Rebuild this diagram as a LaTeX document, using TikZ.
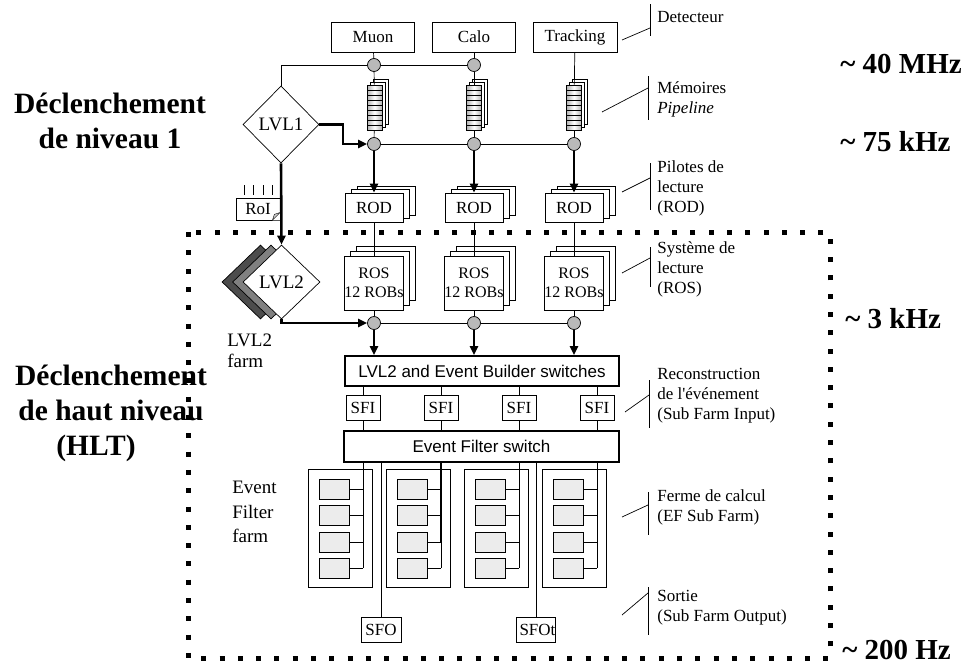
\documentclass[tikz,border=0pt]{standalone}
\usepackage{fontspec}
\setmainfont{Liberation Serif}
\setsansfont{Liberation Sans}
\usetikzlibrary{shapes.geometric,shadows,arrows.meta}

\tikzset{
  txt/.style={font=\fontsize{17}{20}\selectfont},
  box/.style={draw, fill=white, inner sep=0pt, txt},
  detbox/.style={box, minimum width=83, minimum height=30},
  tap/.style={circle, draw, fill=gray!55, minimum size=13, inner sep=0pt},
  pipe/.style={draw, inner sep=0pt, minimum width=15, minimum height=45,
    left color=gray!60, right color=gray!60, middle color=white,
    general shadow={shadow xshift=6pt, shadow yshift=6pt, draw, fill=white},
    general shadow={shadow xshift=3pt, shadow yshift=3pt, draw, fill=white},
    path picture={\foreach \k in {1,...,8}{\draw ([yshift=\k*5pt]path picture bounding box.south west) -- ([yshift=\k*5pt]path picture bounding box.south east);}}},
  rodbox/.style={box, minimum width=58, minimum height=29,
    general shadow={shadow xshift=12pt, shadow yshift=7pt, draw, fill=white},
    general shadow={shadow xshift=6pt, shadow yshift=3.5pt, draw, fill=white}},
  rosbox/.style={box, minimum width=59, minimum height=54, align=center,
    font=\fontsize{16}{19}\selectfont,
    general shadow={shadow xshift=12pt, shadow yshift=10pt, draw, fill=white},
    general shadow={shadow xshift=6pt, shadow yshift=5pt, draw, fill=white}},
  trig/.style={diamond, draw, fill=white, inner sep=0pt, font=\fontsize{19}{22}\selectfont},
  switch/.style={box, line width=1.6pt, font=\sffamily\fontsize{17}{20}\selectfont},
  sfibox/.style={box, minimum width=34, minimum height=25},
  farmbox/.style={draw, minimum width=64, minimum height=118},
  cell/.style={draw, fill=gray!15, minimum width=30, minimum height=20},
  thickarr/.style={line width=2.6pt, -{Triangle[length=9pt,width=8pt]}},
  note/.style={txt, align=left, anchor=west, inner sep=0pt},
  rate/.style={font=\fontsize{29}{32}\selectfont\bfseries, anchor=base west, inner sep=0pt},
  big/.style={font=\fontsize{29.5}{35}\selectfont\bfseries, align=center, inner sep=0pt},
}

\begin{document}
\begin{tikzpicture}[x=1pt, y=-1pt, line width=0.7pt]
\useasboundingbox (0,0) rectangle (970,664);

% level 1
\node[detbox] (muon) at (373,37) {Muon};
\node[detbox] (calo) at (474,37) {Calo};
\node[detbox, minimum width=84] (trk) at (575,37) {Tracking};
\node[tap] (t1) at (374,65) {};
\node[tap] (t2) at (474,65) {};
\node[pipe] (p1) at (374.5,107.5) {};
\node[pipe] (p2) at (474,107.5) {};
\node[pipe] (p3) at (574,107.5) {};
\node[tap] (b1) at (374,144) {};
\node[tap] (b2) at (474,144) {};
\node[tap] (b3) at (574,144) {};
\node[trig, minimum width=76, minimum height=77] (lvl1) at (281,124.5) {LVL1};
\node[rodbox] (rod1) at (374,207.5) {ROD};
\node[rodbox] (rod2) at (474,207.5) {ROD};
\node[rodbox] (rod3) at (574,207.5) {ROD};

\draw (muon) -- (t1);
\draw (t1) -- (p1);
\draw (calo) -- (t2);
\draw (t2) -- (p2);
\draw (trk) -- (p3);
\draw (p1) -- (b1);
\draw (p2) -- (b2);
\draw (p3) -- (b3);
\draw (lvl1.north) |- (t1);
\draw (t1) -- (t2);
\draw (b1) -- (b2);
\draw (b2) -- (b3);
\coordinate (k1) at (343,144);
\draw[thickarr] (lvl1.east) -| (k1) -- (b1);
\draw[thickarr] (b1) -- (rod1);
\draw[thickarr] (b2) -- (rod2);
\draw[thickarr] (b3) -- (rod3);

% RoI
\node[box, minimum width=44, minimum height=22] (roi) at (258,209) {RoI};
\foreach \dx in {-14,-5,5,14}
  \draw ([xshift=\dx pt, yshift=3pt]roi.north) -- ++(0,-10);
\fill[white] ([xshift=-8pt]roi.south east) -- (roi.south east) -- ([yshift=8pt]roi.south east) -- cycle;
\filldraw[fill=gray!40, thin] ([xshift=-8pt]roi.south east) -- ([yshift=8pt]roi.south east) -- ([xshift=-6pt, yshift=6pt]roi.south east) -- cycle;

% level 2
\node[trig, minimum width=77, minimum height=74,
  general shadow={shadow xshift=-21pt, shadow yshift=0pt, draw, fill=black!70},
  general shadow={shadow xshift=-10.5pt, shadow yshift=0pt, draw, fill=black!50}] (lvl2) at (281.5,282) {LVL2};
\node[anchor=west, align=left, inner sep=0pt, font=\fontsize{19}{21}\selectfont] (l2farm) at (227,351) {LVL2\\farm};
\draw[thickarr] (lvl1.south) -- (lvl2.north);

\node[rosbox] (ros1) at (374,283) {ROS\\12 ROBs};
\node[rosbox] (ros2) at (474,283) {ROS\\12 ROBs};
\node[rosbox] (ros3) at (574,283) {ROS\\12 ROBs};
\draw (rod1) -- (ros1);
\draw (rod2) -- (ros2);
\draw (rod3) -- (ros3);
\node[tap] (r1) at (374,323) {};
\node[tap] (r2) at (474,323) {};
\node[tap] (r3) at (574,323) {};
\draw (ros1) -- (r1);
\draw (ros2) -- (r2);
\draw (ros3) -- (r3);
\draw (r1) -- (r2);
\draw (r2) -- (r3);
\draw[thickarr] (lvl2.south) |- (r1);

% event builder and event filter
\node[switch, minimum width=274, minimum height=30] (sw) at (482,371) {LVL2 and Event Builder switches};
\node[switch, minimum width=275, minimum height=31] (ef) at (481.5,446.5) {Event Filter switch};
\draw[thickarr] (r1) -- (r1 |- sw.north);
\draw[thickarr] (r2) -- (r2 |- sw.north);
\draw[thickarr] (r3) -- (r3 |- sw.north);

\foreach \i/\x in {1/363,2/441,3/519,4/597} {
  \node[sfibox] (sfi\i) at (\x,407.5) {SFI};
  \draw (sw.south -| sfi\i) -- (sfi\i);
  \draw (sfi\i) -- (ef.north -| sfi\i);
  \node[farmbox] (farm\i) at (\x-23,528) {};
  \foreach \j/\y in {1/489,2/515,3/542,4/568} {
    \node[cell] (cell\i\j) at (\x-29,\y) {};
    \draw (cell\i\j.east) -- (cell\i\j.east -| sfi\i);
  }
  \draw (ef.south -| sfi\i) -- (cell\i4.east -| sfi\i);
}
\draw[line width=1.6pt] (ef.south -| sfi2) -- (cell23.east -| sfi2);

\node[sfibox, minimum width=40] (sfo) at (381,629.5) {SFO};
\node[sfibox, text width=33pt, inner xsep=3pt, align=left] (sfot) at (536,629.5) {SFOt};
\draw (ef.south -| sfo) -- (sfo);
\draw (ef.south -| sfot) -- (sfot);
\node[anchor=west, align=left, inner sep=0pt, font=\fontsize{19}{24.5}\selectfont] (eflabel) at (232,512) {Event\\Filter\\farm};

% HLT frame
\draw[line width=5pt, dash pattern=on 5pt off 13.3pt] (188,232) rectangle (830,658);

% annotations
\node[note] (ndet) at (657,17) {Detecteur};
\node[note] (npipe) at (657,99) {Mémoires\\\textit{Pipeline}};
\node[note] (nrod) at (657,188) {Pilotes de\\lecture\\(ROD)};
\node[note] (nros) at (657,269) {Système de\\lecture\\(ROS)};
\node[note] (nsfi) at (657,396) {Reconstruction\\de l\textquotesingle événement\\(Sub Farm Input)};
\node[note] (nfarm) at (657,507) {Ferme de calcul\\(EF Sub Farm)};
\node[note] (nsfo) at (657,608) {Sortie\\(Sub Farm Output)};
\foreach \n/\xa/\ya/\xb/\yb/\ytop/\ybot in {det/622/40/650/28/4/36, pipe/602/112/648/88/76/120,
    rod/622/192/650/178/163/210, ros/622/273/650/258/247/287, sfi/625/412/649/395/380/428,
    farm/622/517/648/505/492/535, sfo/622/615/648/593/587/635} {
  \coordinate (lead\n) at (\xa,\ya);
  \coordinate (bar\n) at (\xb,\yb);
  \draw (\xb,\ytop) -- (\xb,\ybot);
  \draw (lead\n) -- (bar\n);
}

% rates
\node[rate] (rate40) at (840,73) {\textasciitilde{} 40 MHz};
\node[rate] (rate75) at (840,151) {\textasciitilde{} 75 kHz};
\node[rate] (rate3) at (845,328) {\textasciitilde{} 3 kHz};
\node[rate] (rate200) at (842,659) {\textasciitilde{} 200 Hz};

% trigger levels
\node[big] (lvlone) at (110,121) {Déclenchement\\de niveau 1};
\node[big] (hlt) at (111,413) {Déclenchement\\de haut niveau\\\hspace*{-30pt}(HLT)};
\end{tikzpicture}
\end{document}
